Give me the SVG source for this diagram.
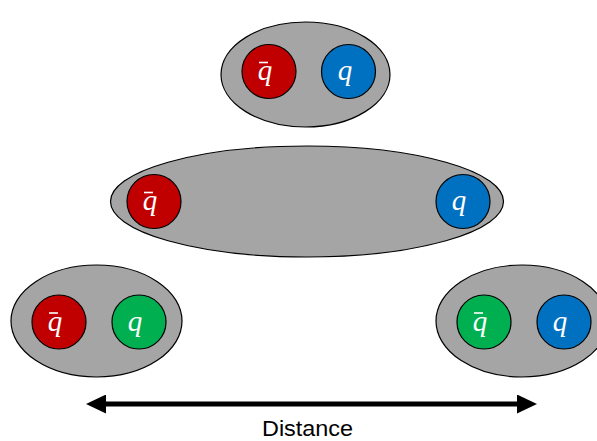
<svg xmlns="http://www.w3.org/2000/svg" width="597" height="441" viewBox="0 0 597 441">
  <style>
    .hadron { fill: #A5A5A5; stroke: #000; stroke-width: 1.2; }
    .quark { stroke: #000; stroke-width: 1.2; }
    .red { fill: #C00000; }
    .blue { fill: #0070C0; }
    .green { fill: #00B050; }
    .sym { font-family: "Liberation Serif", "DejaVu Serif", serif; font-style: italic; font-size: 29px; fill: #fff; text-anchor: middle; }
    .bar { stroke: #fff; stroke-width: 1.6; }
    .label { font-family: "Liberation Sans", Arial, sans-serif; font-size: 22px; fill: #000; }
  </style>
  <defs>
    <marker id="head" viewBox="0 0 20 19" refX="4" refY="9.5" markerWidth="20" markerHeight="19" markerUnits="userSpaceOnUse" orient="auto-start-reverse">
      <path d="M0,0 L20,9.5 L0,19 Z" fill="#000"/>
    </marker>
  </defs>

  <!-- bound pair, short separation -->
  <g id="meson-top">
    <ellipse class="hadron" cx="305.5" cy="74.5" rx="84.5" ry="52.5"/>
    <g id="top-antiquark">
      <circle class="quark red" cx="269" cy="71.5" r="27"/>
      <line class="bar" x1="259" y1="62.5" x2="268" y2="62.5"/>
      <text class="sym" x="265" y="80">q</text>
    </g>
    <g id="top-quark">
      <circle class="quark blue" cx="348.5" cy="71.5" r="27"/>
      <text class="sym" x="345" y="80">q</text>
    </g>
  </g>

  <!-- stretched flux tube -->
  <g id="meson-stretched">
    <ellipse class="hadron" cx="307" cy="201.5" rx="196.5" ry="55.5"/>
    <g id="mid-antiquark">
      <circle class="quark red" cx="154" cy="201.5" r="27"/>
      <line class="bar" x1="144" y1="192.5" x2="153" y2="192.5"/>
      <text class="sym" x="150" y="210">q</text>
    </g>
    <g id="mid-quark">
      <circle class="quark blue" cx="463" cy="201.5" r="27"/>
      <text class="sym" x="459" y="210">q</text>
    </g>
  </g>

  <!-- string breaking: two new pairs -->
  <g id="meson-left">
    <ellipse class="hadron" cx="96.5" cy="321" rx="85.5" ry="56"/>
    <g id="left-antiquark">
      <circle class="quark red" cx="59" cy="322" r="27"/>
      <line class="bar" x1="49" y1="313" x2="58" y2="313"/>
      <text class="sym" x="55" y="330.5">q</text>
    </g>
    <g id="left-quark">
      <circle class="quark green" cx="139" cy="322" r="27"/>
      <text class="sym" x="135" y="330.5">q</text>
    </g>
  </g>

  <g id="meson-right">
    <ellipse class="hadron" cx="522" cy="321" rx="86" ry="56"/>
    <g id="right-antiquark">
      <circle class="quark green" cx="484" cy="322" r="27"/>
      <line class="bar" x1="474" y1="313" x2="483" y2="313"/>
      <text class="sym" x="480" y="330.5">q</text>
    </g>
    <g id="right-quark">
      <circle class="quark blue" cx="564" cy="322" r="27"/>
      <text class="sym" x="560" y="330.5">q</text>
    </g>
  </g>

  <!-- distance axis -->
  <g id="connectors">
    <line x1="102" y1="404" x2="521" y2="404" stroke="#000" stroke-width="5" marker-start="url(#head)" marker-end="url(#head)"/>
  </g>
  <g id="axis-label">
    <text class="label" x="262" y="436" textLength="91" lengthAdjust="spacingAndGlyphs">Distance</text>
  </g>
</svg>
